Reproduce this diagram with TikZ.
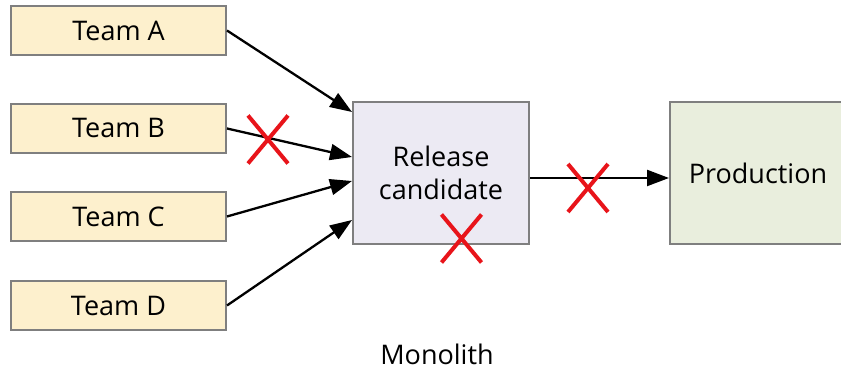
\documentclass[tikz,border=0pt]{standalone}
\usepackage{fontspec}
\setmainfont{Open Sans}
\usepackage{xcolor}
\usetikzlibrary{arrows.meta,shapes.misc}

\definecolor{teamfill}{HTML}{FDF0CD}
\definecolor{rcfill}{HTML}{ECEAF3}
\definecolor{prodfill}{HTML}{E9EEDD}
\definecolor{boxline}{HTML}{7F7F7F}
\definecolor{xred}{HTML}{E8141A}

\tikzset{
	teambox/.style={draw=boxline, fill=teamfill, line width=2pt, rectangle,
		minimum width=215pt, minimum height=49pt, inner sep=0pt},
	bigbox/.style={draw=boxline, line width=2pt, rectangle,
		minimum width=176pt, minimum height=142pt, inner sep=0pt, align=center},
	flow/.style={-{Triangle[length=22pt,width=16pt]}, line width=2.3pt},
	fail/.style={cross out, draw=xred, line width=4pt, minimum width=36pt,
		minimum height=44pt, inner sep=0pt}
}

\begin{document}
\begin{tikzpicture}[x=1pt, y=1pt, font=\fontsize{27}{33}\selectfont]
			\useasboundingbox (0,0) rectangle (841,371);
			\begin{scope}
			\clip (0,0) rectangle (841,371);
			\node[teambox] (ta) at (118.5,340.5) {Team A};
			\node[teambox] (tb) at (118.5,242.5) {Team B};
			\node[teambox] (tc) at (118.5,154.5) {Team C};
			\node[teambox] (td) at (118.5,65.5) {Team D};
			
			\node[bigbox, fill=rcfill] (rc) at (441,198) {Release\\candidate};
			\node[bigbox, fill=prodfill] (prod) at (758,198) {Production};
			\end{scope}
			
			\node (mono) at (437,17) {Monolith};
			
			\draw[flow] (ta.east) to ([yshift=61pt]rc.west);
			\draw[flow] (tb.east) to ([yshift=16pt]rc.west);
			\draw[flow] (tc.east) to ([yshift=-8pt]rc.west);
			\draw[flow] (td.east) to ([yshift=-47pt]rc.west);
			\draw[flow] ([yshift=-5pt]rc.east) to ([yshift=-5pt]prod.west);
			
			\node[fail] (xb) at (268,231.5) {};
			\node[fail] (xout) at (588,183) {};
			\node[fail] (xrc) at (461.5,132.5) {};
		\end{tikzpicture}
\end{document}
